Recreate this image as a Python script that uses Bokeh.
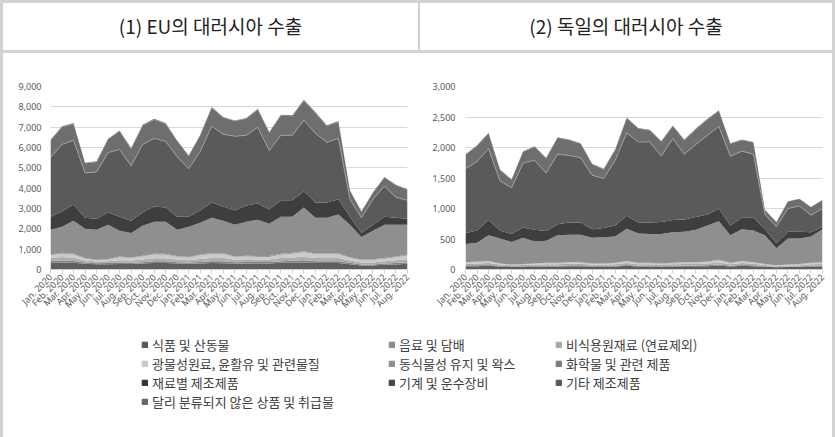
import math
from bokeh.plotting import figure
from bokeh.models import (ColumnDataSource, Range1d, FixedTicker, NumeralTickFormatter,
                          Legend, LegendItem, Div)
from bokeh.layouts import column, row
from bokeh.transform import stack
from bokeh.embed import file_html
from bokeh.resources import INLINE

# ---------------- data ----------------
months = ["Jan. 2020", "Feb. 2020", "Mar. 2020", "Apr. 2020", "May. 2020", "Jun. 2020",
          "Jul. 2020", "Aug. 2020", "Sep. 2020", "Oct. 2020", "Nov. 2020", "Dec. 2020",
          "Jan. 2021", "Feb. 2021", "Mar. 2021", "Apr. 2021", "May. 2021", "Jun. 2021",
          "Jul. 2021", "Aug. 2021", "Sep. 2021", "Oct. 2021", "Nov. 2021", "Dec. 2021",
          "Jan. 2022", "Feb. 2022", "Mar. 2022", "Apr. 2022", "May. 2022", "Jun. 2022",
          "Jul. 2022", "Aug. 2022"]

categories = ["식품 및 산동물", "음료 및 담배", "비식용원재료 (연료제외)",
              "광물성원료, 윤활유 및 관련물질", "동식물성 유지 및 왁스", "화학물 및 관련 제품",
              "재료별 제조제품", "기계 및 운수장비", "기타 제조제품",
              "달리 분류되지 않은 상품 및 취급물"]

# EU exports to Russia
eu_food = [330,340,330,280,260,260,270,270,290,320,320,290,280,290,320,310,290,300,300,300,330,340,350,320,320,320,260,200,200,230,250,280]
eu_bev = [90,100,90,60,50,60,70,60,70,80,80,70,60,80,90,90,70,70,70,70,80,90,100,90,90,90,70,50,50,60,70,80]
eu_crude = [150,170,160,100,80,90,120,110,130,150,150,130,120,150,160,160,120,130,120,120,150,160,180,160,160,160,110,90,100,110,130,150]
eu_mineral = [130,160,160,90,70,80,140,120,150,190,180,140,130,180,190,200,130,140,130,130,170,190,220,180,180,180,130,110,120,130,150,180]
eu_oil = [50,50,50,30,20,30,40,30,40,40,40,30,30,40,40,40,30,40,40,40,40,40,50,40,40,40,30,30,30,40,40,50]
eu_chem = [1200,1280,1610,1440,1470,1680,1260,1210,1470,1570,1580,1290,1480,1560,1750,1600,1560,1670,1790,1590,1830,1780,2150,1760,1760,1910,1600,1120,1400,1630,1560,1460]
eu_manuf = [650,750,800,550,550,600,700,600,650,750,700,650,500,600,750,700,700,800,800,700,800,800,800,750,750,750,400,200,300,400,350,300]
eu_mach = [2900,3300,3150,2200,2300,2950,3300,2700,3350,3350,3250,2950,2350,2900,3750,3550,3650,3450,3750,2900,3200,3200,3500,3400,2950,3000,850,750,1250,1500,1000,900]
eu_misc = [840,850,810,470,490,650,900,830,930,920,860,770,630,800,900,810,750,810,860,870,970,940,950,1000,800,810,420,290,330,420,590,520]
eu_other = [40,40,40,30,30,30,40,40,40,40,40,30,30,30,40,40,30,40,40,40,40,40,50,40,40,40,30,20,20,30,30,30]

# Germany exports to Russia
de_food = [55,55,60,50,45,45,50,50,50,55,55,50,50,50,60,50,50,45,50,55,55,55,65,50,60,55,45,35,40,40,50,50]
de_bev = [15,15,15,10,10,10,10,10,10,15,15,10,10,10,15,10,10,10,10,10,10,15,15,10,15,15,10,10,10,10,10,15]
de_crude = [25,30,30,20,15,20,20,25,25,25,25,20,20,25,30,25,25,25,25,25,25,30,35,25,30,25,20,15,15,20,25,25]
de_mineral = [20,25,30,15,8,12,15,20,20,20,20,15,15,20,30,20,20,15,20,25,25,25,35,20,30,20,12,8,12,15,20,25]
de_oil = [5,5,5,5,2,3,5,5,5,5,5,5,5,5,5,5,5,5,5,5,5,5,10,5,5,5,3,2,3,5,5,5]
de_chem = [300,310,420,410,370,430,360,360,450,450,450,420,430,430,530,480,470,480,500,500,530,590,630,450,520,520,470,280,430,420,430,540]
de_manuf = [180,200,250,130,130,170,190,160,180,200,200,140,150,180,210,180,190,200,200,200,210,180,210,160,190,210,100,80,110,110,70,40]
de_mach = [1050,1130,1170,810,760,1055,1140,950,1150,1100,1060,885,810,1070,1360,1320,1320,1080,1335,1070,1190,1300,1345,1135,1090,1040,245,270,380,420,280,300]
de_misc = [230,255,250,180,130,185,220,240,270,250,230,180,150,170,240,220,190,235,205,230,250,260,255,205,180,190,70,75,115,115,130,140]
de_other = [10,10,10,10,10,10,10,10,10,10,10,10,10,10,10,10,10,10,10,10,10,10,10,10,10,10,5,5,5,5,5,5]

eu_ticks = [0, 1000, 2000, 3000, 4000, 5000, 6000, 7000, 8000, 9000]
de_ticks = [0, 500, 1000, 1500, 2000, 2500, 3000]

# ---------------- style ----------------
colors = ["#5e5e5e", "#828282", "#adadad", "#cacaca", "#9c9c9c",
          "#8f8f8f", "#3e3e3e", "#5a5a5a", "#6e6e6e", "#7a7a7a"]
legend_colors = ["#555555", "#8a8a8a", "#a8a8a8", "#c8c8c8", "#8e8e8e",
                 "#7a7a7a", "#333333", "#444444", "#595959", "#666666"]
keys = ["s%d" % i for i in range(10)]
BORDER = "#d2d2d2"
TICK_FONT = "Noto Sans"


def make_chart(series, ticks, width, left, right, standoff):
    data = {"x": list(range(len(months)))}
    for k, s in zip(keys, series):
        data[k] = s
    src = ColumnDataSource(data)
    p = figure(width=width, height=277, x_range=Range1d(0, len(months) - 1),
               y_range=Range1d(ticks[0], ticks[-1]), output_backend="svg",
               toolbar_location=None, min_border_left=left, min_border_right=right,
               min_border_top=33, min_border_bottom=61)
    p.varea_stack(stackers=keys, x="x", color=colors, source=src)
    p.line(x="x", y=stack(*keys[:8]), line_color="#a6a6a6", line_width=0.8, source=src)
    p.outline_line_color = None
    p.xgrid.grid_line_color = None
    p.ygrid.grid_line_color = "#d9d9d9"
    p.ygrid.grid_line_width = 1
    p.yaxis.ticker = FixedTicker(ticks=ticks)
    p.yaxis.formatter = NumeralTickFormatter(format="0,0")
    p.yaxis.axis_line_color = None
    p.yaxis.major_tick_line_color = None
    p.yaxis.minor_tick_line_color = None
    p.yaxis.major_label_standoff = standoff
    p.yaxis.major_label_text_font = TICK_FONT
    p.yaxis.major_label_text_font_size = "9px"
    p.yaxis.major_label_text_color = "#595959"
    p.xaxis.ticker = FixedTicker(ticks=list(range(len(months))))
    p.xaxis.major_label_overrides = {i: m for i, m in enumerate(months)}
    p.xaxis.major_label_orientation = math.pi / 4
    p.xaxis.axis_line_color = "#d0d0d0"
    p.xaxis.major_tick_line_color = "#d0d0d0"
    p.xaxis.major_tick_in = 0
    p.xaxis.major_tick_out = 4
    p.xaxis.minor_tick_line_color = None
    p.xaxis.major_label_standoff = 2
    p.xaxis.major_label_text_font = TICK_FONT
    p.xaxis.major_label_text_font_size = "9px"
    p.xaxis.major_label_text_color = "#595959"
    return p


p1 = make_chart([eu_food, eu_bev, eu_crude, eu_mineral, eu_oil, eu_chem, eu_manuf,
                 eu_mach, eu_misc, eu_other], eu_ticks, 415, 47, 11, 3)
p2 = make_chart([de_food, de_bev, de_crude, de_mineral, de_oil, de_chem, de_manuf,
                 de_mach, de_misc, de_other], de_ticks, 414, 47, 10, 4)

header_html = (
    '<div style="display:flex;width:829px;height:53px;box-sizing:border-box;'
    'border-top:3px solid %s;border-bottom:3px solid %s;'
    'font-family:\'Noto Sans CJK KR\';font-size:19px;color:#222;">'
    '<div style="width:417px;border-right:2px solid %s;display:flex;align-items:center;'
    'justify-content:center;padding-bottom:2px;box-sizing:border-box;">(1) EU의 대러시아 수출</div>'
    '<div style="flex:1;display:flex;align-items:center;justify-content:center;'
    'padding-bottom:2px;box-sizing:border-box;">(2) 독일의 대러시아 수출</div></div>'
) % (BORDER, BORDER, BORDER)
header = Div(text=header_html, width=829, height=53, margin=0)

# legend panel
leg = figure(width=829, height=107, x_range=Range1d(0, 1), y_range=Range1d(0, 1),
             output_backend="svg", toolbar_location=None, min_border=0)
leg.axis.visible = False
leg.grid.visible = False
leg.outline_line_color = None
# swatch-only renderers, kept outside the visible range of this panel
dummies = [leg.rect(x=[-5], y=[-5], width=1, height=1, color=c) for c in legend_colors]

col_idx = [[0, 3, 6, 9], [1, 4, 7], [2, 5, 8]]
col_loc = [(138, 26), (385, 45), (552, 45)]
for idx, loc in zip(col_idx, col_loc):
    lg = Legend(items=[LegendItem(label=categories[i], renderers=[dummies[i]]) for i in idx],
                location=loc, padding=0, margin=0, spacing=0,
                glyph_width=7, glyph_height=7, label_standoff=4, label_height=16,
                border_line_color=None, background_fill_alpha=0,
                label_text_font="Noto Sans CJK KR", label_text_font_size="13px",
                label_text_color="#404040")
    leg.add_layout(lg, "center")

layout = column(header, row(p1, p2), leg,
                styles={"border-left": "3px solid %s" % BORDER,
                        "border-right": "3px solid %s" % BORDER})

open("out.html", "w").write(file_html(layout, INLINE))
